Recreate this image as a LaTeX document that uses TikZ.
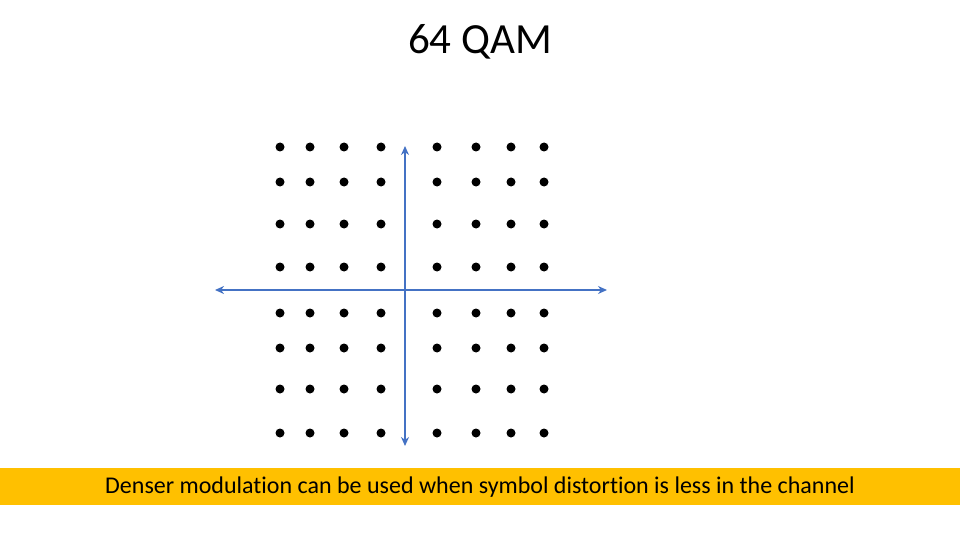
\documentclass[tikz,border=0pt]{standalone}
\usepackage{fontspec}
\setmainfont{Carlito}[Ligatures=NoCommon]
\usetikzlibrary{arrows.meta}
\definecolor{axblue}{HTML}{4472C4}
\definecolor{band}{HTML}{FFC000}
\begin{document}
\begin{tikzpicture}[x=1pt,y=-1pt,
  dot/.style={circle,fill=black,inner sep=0pt,minimum size=9pt},
  axis/.style={axblue,line width=1.8pt,{Stealth[length=9pt,width=8pt]}-{Stealth[length=9pt,width=8pt]}}]
\useasboundingbox (0,0) rectangle (960,540);
\node (title) at (480,42) {\fontsize{43}{48}\selectfont 64 QAM};
\fill[band] (0,468) rectangle (960,505);
\node (caption) at (480,487) {\fontsize{24}{28}\selectfont Denser modulation can be used when symbol distortion is less in the channel};
\coordinate (vt) at (405,146);
\coordinate (vb) at (405,446);
\coordinate (hl) at (215,290);
\coordinate (hr) at (607,290);
\draw[axis] (vt) -- (vb);
\draw[axis] (hl) -- (hr);
\foreach \x [count=\i] in {280,310,344,381,437,476,511,544}
  \foreach \y [count=\j] in {147,182,224,267,313,348,389,433}
    \node[dot] (d\i\j) at (\x,\y) {};
\end{tikzpicture}
\end{document}
